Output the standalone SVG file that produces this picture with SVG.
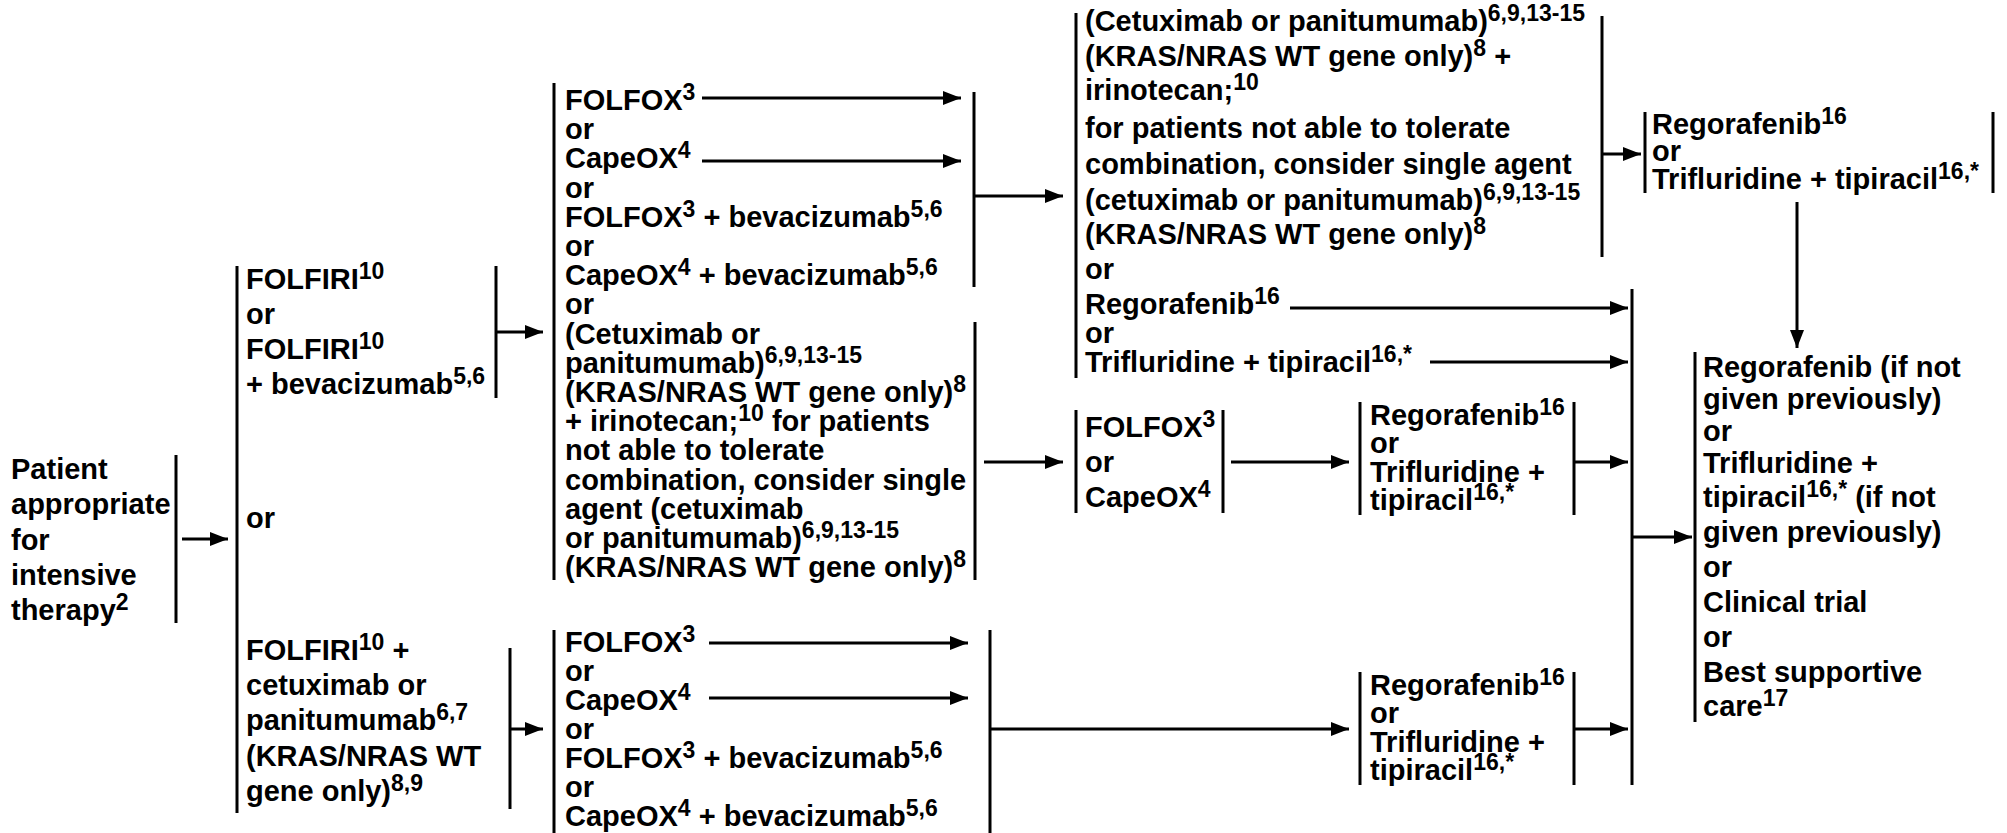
<svg xmlns="http://www.w3.org/2000/svg" width="2007" height="833" viewBox="0 0 2007 833">
<style>
.t{font-family:"Liberation Sans",Arial,Helvetica,sans-serif;font-weight:bold;font-size:29px;fill:#000}
.s{font-size:23px}
.ln{stroke:#000;stroke-width:3;fill:none}
.ar{stroke:#000;stroke-width:3;fill:none;marker-end:url(#ah)}
</style>
<defs>
<marker id="ah" markerUnits="userSpaceOnUse" markerWidth="18" markerHeight="14" refX="18" refY="7" orient="auto">
<path d="M0,0 L18,7 L0,14 z" fill="#000"/>
</marker>
</defs>
<rect width="2007" height="833" fill="#fff"/>

<g id="n-patient">
<line class="ln" x1="176" y1="455" x2="176" y2="623"/>
<text class="t" x="11" y="479">Patient</text>
<text class="t" x="11" y="514">appropriate</text>
<text class="t" x="11" y="550">for</text>
<text class="t" x="11" y="585">intensive</text>
<text class="t" x="11" y="620">therapy<tspan class="s" dy="-10">2</tspan></text>
</g>

<g id="n-first-line">
<line class="ln" x1="237" y1="266" x2="237" y2="813"/>
<text class="t" x="246" y="528">or</text>
</g>

<g id="n-folfiri">
<line class="ln" x1="496" y1="266" x2="496" y2="398"/>
<text class="t" x="246" y="289">FOLFIRI<tspan class="s" dy="-10">10</tspan></text>
<text class="t" x="246" y="324">or</text>
<text class="t" x="246" y="359">FOLFIRI<tspan class="s" dy="-10">10</tspan></text>
<text class="t" x="246" y="394">+ bevacizumab<tspan class="s" dy="-10">5,6</tspan></text>
</g>

<g id="n-folfiri-egfr">
<line class="ln" x1="510" y1="648" x2="510" y2="809"/>
<text class="t" x="246" y="660">FOLFIRI<tspan class="s" dy="-10">10</tspan><tspan dy="10"> +</tspan></text>
<text class="t" x="246" y="695">cetuximab or</text>
<text class="t" x="246" y="730">panitumumab<tspan class="s" dy="-10">6,7</tspan></text>
<text class="t" x="246" y="766">(KRAS/NRAS WT</text>
<text class="t" x="246" y="801">gene only)<tspan class="s" dy="-10">8,9</tspan></text>
</g>

<g id="n-second-line-a">
<line class="ln" x1="554" y1="83" x2="554" y2="580"/>
<line class="ln" x1="974" y1="92" x2="974" y2="287"/>
<line class="ln" x1="975" y1="322" x2="975" y2="580"/>
<text class="t" x="565" y="110">FOLFOX<tspan class="s" dy="-10">3</tspan></text>
<text class="t" x="565" y="139.2">or</text>
<text class="t" x="565" y="168.4">CapeOX<tspan class="s" dy="-10">4</tspan></text>
<text class="t" x="565" y="197.6">or</text>
<text class="t" x="565" y="226.8">FOLFOX<tspan class="s" dy="-10">3</tspan><tspan dy="10"> + bevacizumab</tspan><tspan class="s" dy="-10">5,6</tspan></text>
<text class="t" x="565" y="256">or</text>
<text class="t" x="565" y="285.2">CapeOX<tspan class="s" dy="-10">4</tspan><tspan dy="10"> + bevacizumab</tspan><tspan class="s" dy="-10">5,6</tspan></text>
<text class="t" x="565" y="314.4">or</text>
<text class="t" x="565" y="343.6">(Cetuximab or</text>
<text class="t" x="565" y="372.8">panitumumab)<tspan class="s" dy="-10">6,9,13-15</tspan></text>
<text class="t" x="565" y="402">(KRAS/NRAS WT gene only)<tspan class="s" dy="-10">8</tspan></text>
<text class="t" x="565" y="431.2">+ irinotecan;<tspan class="s" dy="-10">10</tspan><tspan dy="10"> for patients</tspan></text>
<text class="t" x="565" y="460.4">not able to tolerate</text>
<text class="t" x="565" y="489.6">combination, consider single</text>
<text class="t" x="565" y="518.8">agent (cetuximab</text>
<text class="t" x="565" y="548">or panitumumab)<tspan class="s" dy="-10">6,9,13-15</tspan></text>
<text class="t" x="565" y="577.2">(KRAS/NRAS WT gene only)<tspan class="s" dy="-10">8</tspan></text>
</g>

<g id="n-second-line-b">
<line class="ln" x1="554" y1="630" x2="554" y2="833"/>
<line class="ln" x1="990" y1="630" x2="990" y2="833"/>
<text class="t" x="565" y="652">FOLFOX<tspan class="s" dy="-10">3</tspan></text>
<text class="t" x="565" y="681">or</text>
<text class="t" x="565" y="710">CapeOX<tspan class="s" dy="-10">4</tspan></text>
<text class="t" x="565" y="739">or</text>
<text class="t" x="565" y="768">FOLFOX<tspan class="s" dy="-10">3</tspan><tspan dy="10"> + bevacizumab</tspan><tspan class="s" dy="-10">5,6</tspan></text>
<text class="t" x="565" y="797">or</text>
<text class="t" x="565" y="826">CapeOX<tspan class="s" dy="-10">4</tspan><tspan dy="10"> + bevacizumab</tspan><tspan class="s" dy="-10">5,6</tspan></text>
</g>

<g id="n-third-line-a">
<line class="ln" x1="1076" y1="13" x2="1076" y2="378"/>
<line class="ln" x1="1602" y1="16" x2="1602" y2="257"/>
<text class="t" x="1085" y="31">(Cetuximab or panitumumab)<tspan class="s" dy="-10">6,9,13-15</tspan></text>
<text class="t" x="1085" y="66">(KRAS/NRAS WT gene only)<tspan class="s" dy="-10">8</tspan><tspan dy="10"> +</tspan></text>
<text class="t" x="1085" y="100">irinotecan;<tspan class="s" dy="-10">10</tspan></text>
<text class="t" x="1085" y="138">for patients not able to tolerate</text>
<text class="t" x="1085" y="174">combination, consider single agent</text>
<text class="t" x="1085" y="210">(cetuximab or panitumumab)<tspan class="s" dy="-10">6,9,13-15</tspan></text>
<text class="t" x="1085" y="244">(KRAS/NRAS WT gene only)<tspan class="s" dy="-10">8</tspan></text>
<text class="t" x="1085" y="279">or</text>
<text class="t" x="1085" y="314">Regorafenib<tspan class="s" dy="-10">16</tspan></text>
<text class="t" x="1085" y="343">or</text>
<text class="t" x="1085" y="372">Trifluridine + tipiracil<tspan class="s" dy="-10">16,*</tspan></text>
</g>

<g id="n-folfox-capeox">
<line class="ln" x1="1076" y1="410" x2="1076" y2="513"/>
<line class="ln" x1="1223" y1="410" x2="1223" y2="513"/>
<text class="t" x="1085" y="437">FOLFOX<tspan class="s" dy="-10">3</tspan></text>
<text class="t" x="1085" y="472">or</text>
<text class="t" x="1085" y="507">CapeOX<tspan class="s" dy="-10">4</tspan></text>
</g>

<g id="n-rego-mid">
<line class="ln" x1="1360" y1="402" x2="1360" y2="515"/>
<line class="ln" x1="1574" y1="402" x2="1574" y2="515"/>
<text class="t" x="1370" y="425">Regorafenib<tspan class="s" dy="-10">16</tspan></text>
<text class="t" x="1370" y="453">or</text>
<text class="t" x="1370" y="482">Trifluridine +</text>
<text class="t" x="1370" y="510">tipiracil<tspan class="s" dy="-10">16,*</tspan></text>
</g>

<g id="n-rego-low">
<line class="ln" x1="1360" y1="672" x2="1360" y2="785"/>
<line class="ln" x1="1574" y1="672" x2="1574" y2="785"/>
<text class="t" x="1370" y="695">Regorafenib<tspan class="s" dy="-10">16</tspan></text>
<text class="t" x="1370" y="723">or</text>
<text class="t" x="1370" y="752">Trifluridine +</text>
<text class="t" x="1370" y="780">tipiracil<tspan class="s" dy="-10">16,*</tspan></text>
</g>

<g id="n-rego-top">
<line class="ln" x1="1645" y1="112" x2="1645" y2="193"/>
<line class="ln" x1="1993" y1="112" x2="1993" y2="193"/>
<text class="t" x="1652" y="134">Regorafenib<tspan class="s" dy="-10">16</tspan></text>
<text class="t" x="1652" y="161">or</text>
<text class="t" x="1652" y="189">Trifluridine + tipiracil<tspan class="s" dy="-10">16,*</tspan></text>
</g>

<g id="n-collector">
<line class="ln" x1="1632" y1="289" x2="1632" y2="785"/>
</g>

<g id="n-final">
<line class="ln" x1="1695" y1="352" x2="1695" y2="722"/>
<text class="t" x="1703" y="377">Regorafenib (if not</text>
<text class="t" x="1703" y="409">given previously)</text>
<text class="t" x="1703" y="441">or</text>
<text class="t" x="1703" y="473">Trifluridine +</text>
<text class="t" x="1703" y="507">tipiracil<tspan class="s" dy="-10">16,*</tspan><tspan dy="10"> (if not</tspan></text>
<text class="t" x="1703" y="542">given previously)</text>
<text class="t" x="1703" y="577">or</text>
<text class="t" x="1703" y="612">Clinical trial</text>
<text class="t" x="1703" y="647">or</text>
<text class="t" x="1703" y="682">Best supportive</text>
<text class="t" x="1703" y="716">care<tspan class="s" dy="-10">17</tspan></text>
</g>

<g id="connectors">
<line class="ar" x1="182" y1="539" x2="228" y2="539"/>
<line class="ar" x1="496" y1="332" x2="543" y2="332"/>
<line class="ar" x1="510" y1="729" x2="543" y2="729"/>
<line class="ar" x1="702" y1="98" x2="961" y2="98"/>
<line class="ar" x1="702" y1="161" x2="961" y2="161"/>
<line class="ar" x1="974" y1="196" x2="1063" y2="196"/>
<line class="ar" x1="984" y1="462" x2="1063" y2="462"/>
<line class="ar" x1="709" y1="643" x2="968" y2="643"/>
<line class="ar" x1="709" y1="698" x2="968" y2="698"/>
<line class="ar" x1="990" y1="729" x2="1349" y2="729"/>
<line class="ar" x1="1231" y1="462" x2="1349" y2="462"/>
<line class="ar" x1="1574" y1="462" x2="1628" y2="462"/>
<line class="ar" x1="1574" y1="729" x2="1628" y2="729"/>
<line class="ar" x1="1290" y1="308" x2="1628" y2="308"/>
<line class="ar" x1="1430" y1="362" x2="1628" y2="362"/>
<line class="ar" x1="1602" y1="154" x2="1641" y2="154"/>
<line class="ar" x1="1797" y1="202" x2="1797" y2="348"/>
<line class="ar" x1="1632" y1="537" x2="1692" y2="537"/>
</g>
</svg>
